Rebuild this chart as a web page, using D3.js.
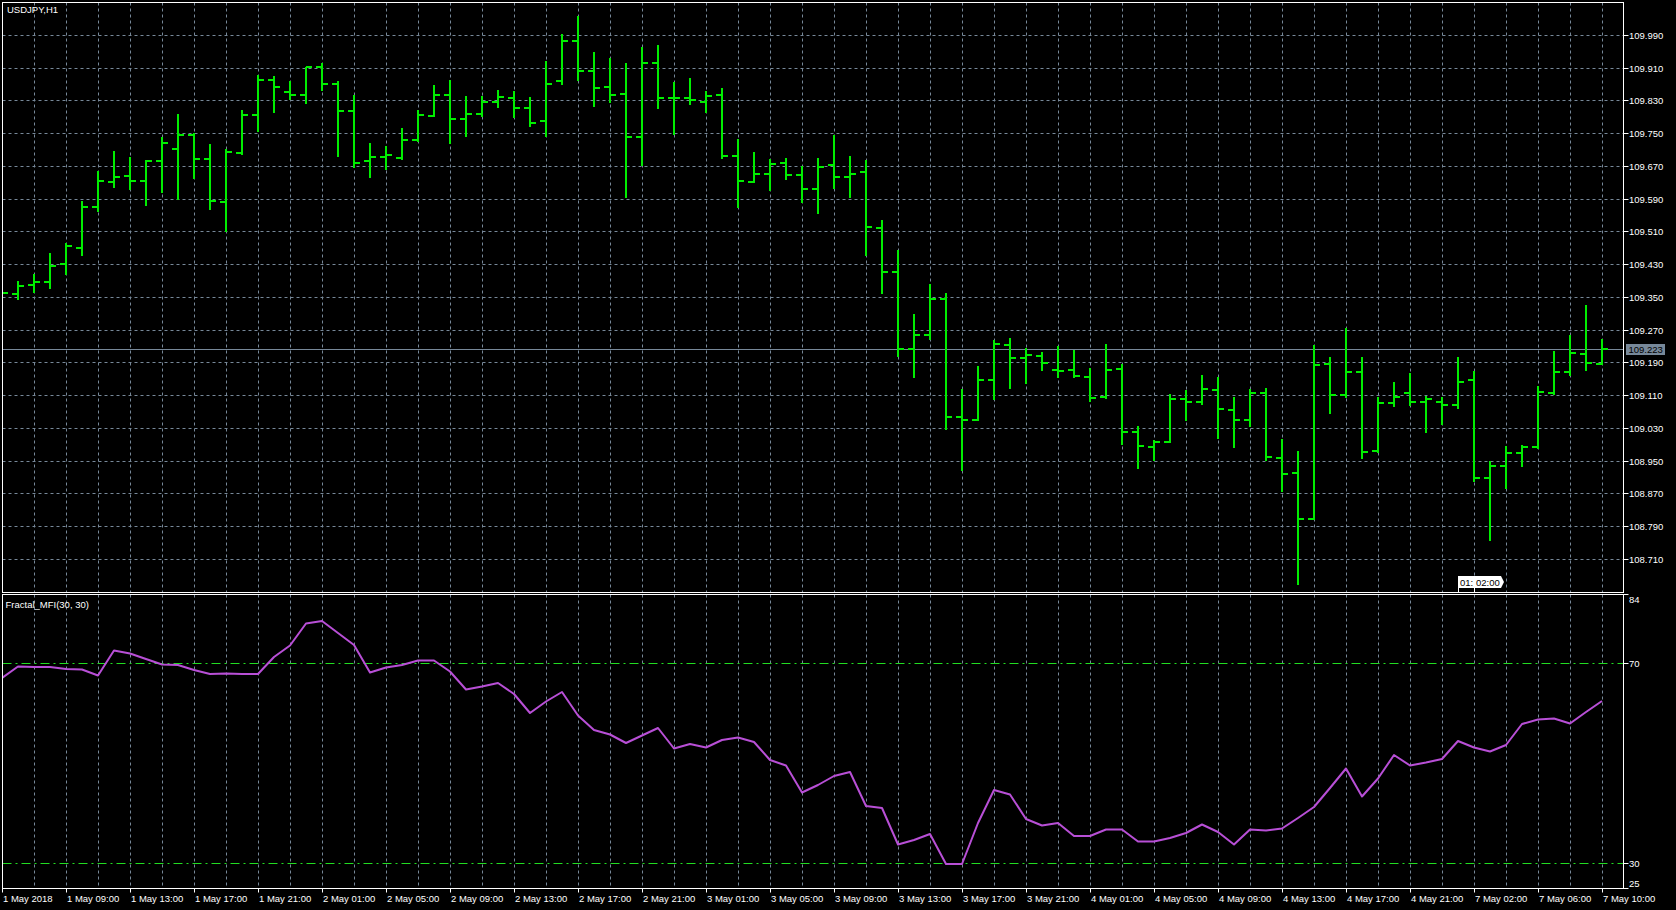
<!DOCTYPE html>
<html><head><meta charset="utf-8">
<script src="https://cdn.jsdelivr.net/npm/d3@7"></script>
<style>html,body{margin:0;padding:0;background:#000;overflow:hidden}</style>
</head><body>
<svg id="c" width="1676" height="910"></svg>
<script>
// ---------- DATA ----------
const symbolTitle = "USDJPY,H1";
const indicatorTitle = "Fractal_MFI(30, 30)";
const openP = [109.361,109.358,109.381,109.389,109.431,109.472,109.571,109.632,109.647,109.635,
109.683,109.712,109.748,109.689,109.584,109.704,109.796,109.882,109.852,109.844,
109.912,109.872,109.806,109.683,109.693,109.691,109.734,109.793,109.845,109.787,
109.798,109.827,109.837,109.812,109.780,109.878,109.977,109.903,109.863,109.848,
109.742,109.924,109.837,109.837,109.828,109.845,109.696,109.632,109.652,109.678,
109.649,109.615,109.673,109.644,109.656,109.520,109.413,109.225,109.259,109.347,
109.059,109.051,109.149,109.234,109.202,109.207,109.172,109.172,109.156,109.107,
109.175,109.022,108.986,108.998,109.102,109.095,109.124,109.076,109.051,109.116,
108.959,108.921,108.809,109.187,109.113,109.169,108.974,109.092,109.116,109.095,
109.095,109.088,109.149,108.910,108.939,108.971,108.985,109.116,109.168,109.212,109.187];
const highP = [109.375,109.391,109.407,109.458,109.484,109.585,109.658,109.707,109.693,109.685,
109.742,109.798,109.753,109.725,109.712,109.808,109.893,109.890,109.878,109.912,
109.922,109.878,109.844,109.727,109.719,109.763,109.808,109.869,109.881,109.841,
109.841,109.856,109.854,109.840,109.927,109.993,110.038,109.949,109.935,109.922,
109.962,109.966,109.877,109.885,109.854,109.861,109.737,109.705,109.688,109.690,
109.671,109.690,109.747,109.695,109.686,109.539,109.466,109.309,109.383,109.360,
109.126,109.183,109.246,109.251,109.227,109.216,109.232,109.222,109.177,109.236,
109.187,109.036,109.003,109.114,109.124,109.160,109.156,109.107,109.126,109.129,
109.004,108.974,109.235,109.204,109.275,109.204,109.107,109.144,109.165,109.109,
109.107,109.204,109.171,108.950,108.987,108.989,109.135,109.219,109.258,109.331,109.249];
const lowP = [109.350,109.344,109.360,109.371,109.404,109.451,109.558,109.617,109.613,109.573,
109.605,109.588,109.639,109.563,109.511,109.698,109.754,109.800,109.833,109.822,
109.854,109.693,109.667,109.643,109.662,109.686,109.731,109.791,109.725,109.742,
109.791,109.812,109.788,109.767,109.742,109.870,109.878,109.815,109.826,109.593,
109.670,109.810,109.746,109.821,109.801,109.688,109.568,109.629,109.610,109.638,
109.581,109.554,109.616,109.593,109.451,109.358,109.204,109.153,109.247,109.026,
108.926,109.049,109.099,109.126,109.138,109.170,109.153,109.153,109.095,109.101,
108.990,108.931,108.950,108.995,109.048,109.088,109.004,108.983,109.034,108.951,
108.874,108.648,108.806,109.065,109.104,108.956,108.971,109.083,109.084,109.018,
109.038,109.077,108.900,108.756,108.881,108.937,108.981,109.111,109.159,109.171,109.186];
const closeP = [109.361,109.378,109.388,109.428,109.476,109.571,109.635,109.644,109.635,109.684,
109.727,109.748,109.689,109.585,109.705,109.796,109.882,109.864,109.844,109.912,
109.872,109.806,109.678,109.693,109.698,109.735,109.796,109.845,109.787,109.798,
109.827,109.839,109.812,109.776,109.871,109.977,109.903,109.862,109.845,109.742,
109.924,109.837,109.837,109.832,109.843,109.696,109.635,109.652,109.676,109.649,
109.615,109.669,109.644,109.652,109.522,109.413,109.225,109.259,109.347,109.059,
109.051,109.149,109.236,109.202,109.210,109.191,109.171,109.158,109.105,109.173,
109.022,108.987,108.998,109.102,109.095,109.127,109.078,109.051,109.116,108.961,
108.920,108.809,109.186,109.113,109.169,108.973,109.092,109.107,109.095,109.102,
109.088,109.143,108.910,108.939,108.971,108.985,109.119,109.169,109.215,109.191,109.223];
const mfiValues = [67.1,69.4,69.3,69.3,68.9,68.8,67.6,72.6,72.0,70.9,
69.8,69.7,68.7,67.9,68.0,67.9,67.9,71.3,73.6,78.0,
78.5,76.1,73.7,68.2,69.2,69.7,70.6,70.6,68.4,64.8,
65.4,66.1,63.9,60.1,62.4,64.3,59.6,56.7,55.8,54.1,
55.6,57.1,53.0,53.9,53.2,54.7,55.2,54.3,50.7,49.6,
44.2,45.7,47.5,48.3,41.5,41.1,33.8,34.7,35.9,29.9,
29.9,38.1,44.7,43.8,38.9,37.6,38.1,35.5,35.5,36.8,
36.8,34.4,34.4,35.1,36.1,37.8,36.3,33.8,36.8,36.6,
37.0,39.1,41.3,45.1,49.0,43.4,47.0,51.7,49.6,50.2,
50.9,54.5,53.2,52.4,53.7,57.9,58.8,59.0,58.0,60.3,62.5];
const priceTicks = [109.990,109.910,109.830,109.750,109.670,109.590,109.510,109.430,109.350,
109.270,109.190,109.110,109.030,108.950,108.870,108.790,108.710];
const mfiTicks = [84,70,30,25];
const mfiLevels = [70,30];
const bidPrice = 109.223;
const timerLabels = ["01:","02:00"];

// bar time categories (hourly, weekend closed)
const barTimes = [];
{
  let t = Date.UTC(2018,4,1,5);
  while (barTimes.length < openP.length) {
    const d = new Date(t), day = d.getUTCDate(), h = d.getUTCHours();
    if (!(day === 5 || day === 6 || (day === 7 && h === 0)))
      barTimes.push(day + " May " + String(h).padStart(2,"0") + ":00");
    t += 3600e3;
  }
}

// ---------- LAYOUT ----------
const L = 2.5, R = 1623.5, mainTop = 2.5, mainBot = 592.5, indTop = 594.5, indBot = 888.5;
const FONT = "'Liberation Sans', Arial, sans-serif";
const GRID = "#778899";
const BARC = "#00ee00";
const DASH = "3,3";

const svg = d3.select("#c");
svg.append("rect").attr("width",1676).attr("height",910).attr("fill","#000");

const x = d3.scalePoint().domain(barTimes).range([2, 1602]);
const y = d3.scaleLinear().domain([108.71, 109.99]).range([559.5, 35.5]);
const ym = d3.scaleLinear().domain([30, 70]).range([863.5, 663.5]);

const defs = svg.append("defs");
defs.append("clipPath").attr("id","cm").append("rect")
  .attr("x",3).attr("y",3).attr("width",R-3).attr("height",mainBot-3);
defs.append("clipPath").attr("id","ci").append("rect")
  .attr("x",3).attr("y",indTop+0.5).attr("width",R-3).attr("height",indBot-indTop-1);

const px = v => Math.round(v);

// ---------- GRID ----------
const gridIdx = barTimes.map((d,i)=>i).filter(i => i % 2 === 0 && i > 0);
const g = svg.append("g");
g.selectAll(".vg").data(gridIdx).join("line")
  .attr("x1", i => px(x(barTimes[i])) + 0.5).attr("x2", i => px(x(barTimes[i])) + 0.5)
  .attr("y1", mainTop).attr("y2", mainBot)
  .attr("stroke", GRID).attr("stroke-dasharray",DASH);
g.selectAll(".vg2").data(gridIdx).join("line")
  .attr("x1", i => px(x(barTimes[i])) + 0.5).attr("x2", i => px(x(barTimes[i])) + 0.5)
  .attr("y1", indTop).attr("y2", indBot)
  .attr("stroke", GRID).attr("stroke-dasharray",DASH);
g.selectAll(".hg").data(priceTicks).join("line")
  .attr("x1", L).attr("x2", R)
  .attr("y1", d => Math.floor(y(d)) + 0.5).attr("y2", d => Math.floor(y(d)) + 0.5)
  .attr("stroke", GRID).attr("stroke-dasharray",DASH);

// bid line
svg.append("line").attr("x1",L).attr("x2",R)
  .attr("y1", Math.floor(y(bidPrice))+0.5).attr("y2", Math.floor(y(bidPrice))+0.5)
  .attr("stroke", GRID).attr("stroke-width",1);

// MFI levels
svg.append("g").selectAll("line").data(mfiLevels).join("line")
  .attr("x1",L).attr("x2",R)
  .attr("y1", d => Math.floor(ym(d))+0.5).attr("y2", d => Math.floor(ym(d))+0.5)
  .attr("stroke","#22dd22").attr("stroke-dasharray","9,4,2,4");

// ---------- BARS ----------
const bars = svg.append("g").attr("clip-path","url(#cm)").attr("fill", BARC);
const idx = openP.map((d,i)=>i);
bars.selectAll(".hl").data(idx).join("rect")
  .attr("x", i => px(x(barTimes[i])) - 1).attr("width", 2)
  .attr("y", i => px(y(highP[i]))).attr("height", i => Math.max(2, px(y(lowP[i])) - px(y(highP[i]))));
bars.selectAll(".op").data(idx).join("rect")
  .attr("x", i => px(x(barTimes[i])) - 6).attr("width", 6)
  .attr("y", i => px(y(openP[i])) - 1).attr("height", 2);
bars.selectAll(".cl").data(idx).join("rect")
  .attr("x", i => px(x(barTimes[i]))).attr("width", 6)
  .attr("y", i => px(y(closeP[i])) - 1).attr("height", 2);

// ---------- MFI LINE ----------
svg.append("path").attr("clip-path","url(#ci)")
  .datum(mfiValues)
  .attr("d", d3.line().x((d,i)=>x(barTimes[i])).y(d=>ym(d)))
  .attr("fill","none").attr("stroke","#b84fd6").attr("stroke-width",2)
  .attr("stroke-linejoin","round");

// ---------- FRAMES ----------
const fr = svg.append("g").attr("fill","none").attr("stroke","#fff").attr("stroke-width",1);
fr.append("rect").attr("x",L).attr("y",mainTop).attr("width",R-L).attr("height",mainBot-mainTop);
fr.append("rect").attr("x",L).attr("y",indTop).attr("width",R-L).attr("height",indBot-indTop);

// ---------- AXES ----------
const axR = svg.append("g").attr("font-family",FONT).attr("font-size","9.5px").attr("fill","#fff");
axR.selectAll(".t").data(priceTicks).join("line")
  .attr("x1",R).attr("x2",R+5)
  .attr("y1", d => Math.floor(y(d))+0.5).attr("y2", d => Math.floor(y(d))+0.5)
  .attr("stroke","#fff");
axR.selectAll(".l").data(priceTicks).join("text")
  .attr("x", 1629).attr("y", d => Math.floor(y(d)) + 4)
  .text(d => d.toFixed(3));

// bid label
const by = Math.floor(y(bidPrice));
svg.append("rect").attr("x",1626).attr("y",by-5).attr("width",39).attr("height",11).attr("fill",GRID);
svg.append("text").attr("x",1628.5).attr("y",by+4).attr("font-family",FONT).attr("font-size","9.5px")
  .attr("fill","#000").text(bidPrice.toFixed(3));

// mfi axis
const mpos = v => Math.min(indBot, Math.max(indTop, Math.floor(ym(v))+0.5));
const moff = v => v === mfiTicks[0] ? 8.5 : (v === mfiTicks[mfiTicks.length-1] ? -1.5 : 3.5);
axR.selectAll(".mt").data(mfiTicks).join("line")
  .attr("x1",R).attr("x2",R+5).attr("y1",mpos).attr("y2",mpos).attr("stroke","#fff");
axR.selectAll(".ml").data(mfiTicks).join("text")
  .attr("x",1629).attr("y", d => mpos(d) + moff(d)).text(d => d);

// time axis
const tIdx = idx.filter(i => i % 4 === 0);
const axB = svg.append("g").attr("font-family",FONT).attr("font-size","9.5px").attr("fill","#fff");
axB.selectAll("line").data(tIdx).join("line")
  .attr("x1", i => px(x(barTimes[i]))+0.5).attr("x2", i => px(x(barTimes[i]))+0.5)
  .attr("y1", indBot).attr("y2", indBot+4).attr("stroke","#fff");
axB.selectAll("text").data(tIdx).join("text")
  .attr("x", i => px(x(barTimes[i])) + 1).attr("y", 902)
  .text(i => i === 0 ? "1 May 2018" : barTimes[i]);

// titles
svg.append("text").attr("x",7).attr("y",13).attr("font-family",FONT).attr("font-size","9.5px")
  .attr("fill","#fff").text(symbolTitle);
svg.append("text").attr("x",5.5).attr("y",607.5).attr("font-family",FONT).attr("font-size","9.5px")
  .attr("fill","#fff").text(indicatorTitle);

// timer-style labels at bottom of main chart
const tl = svg.append("g").attr("font-family",FONT).attr("font-size","9.5px");
const x91 = px(x(barTimes[91])), x92 = px(x(barTimes[92]));
tl.append("rect").attr("x",x91).attr("y",576).attr("width",x92-x91).attr("height",12).attr("fill","#fff");
tl.append("path").attr("d",`M${x92},576 H${x92+27} L${x92+30},582 L${x92+27},588 H${x92} Z`).attr("fill","#fff");
tl.append("line").attr("x1",x91+0.5).attr("x2",x91+0.5).attr("y1",576).attr("y2",592).attr("stroke","#fff");
tl.append("line").attr("x1",x92+0.5).attr("x2",x92+0.5).attr("y1",576).attr("y2",592).attr("stroke","#fff");
tl.append("text").attr("x",x91+2).attr("y",586).attr("fill","#000").text(timerLabels[0]);
tl.append("text").attr("x",x92+2).attr("y",586).attr("fill","#000").text(timerLabels[1]);
</script>
</body></html>
